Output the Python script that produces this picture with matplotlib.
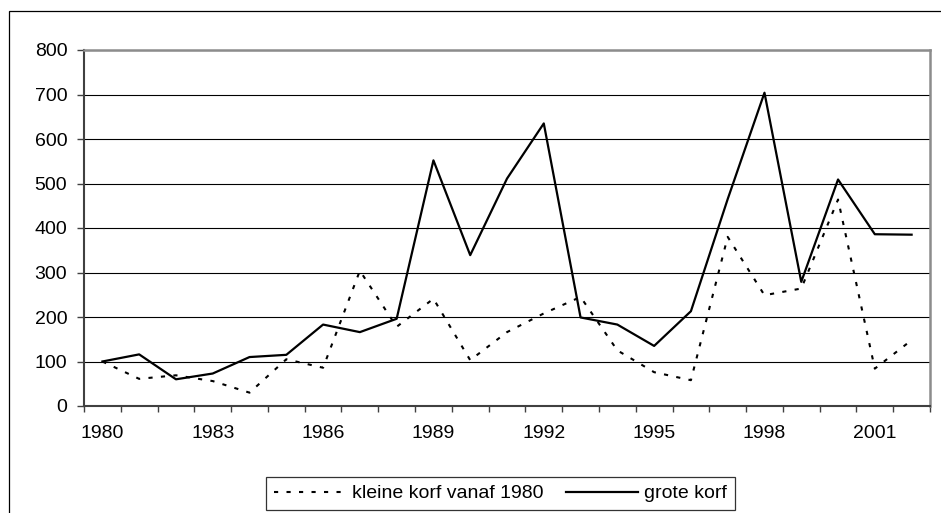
import matplotlib
matplotlib.use('Agg')
import matplotlib.pyplot as plt
from matplotlib.patches import Rectangle
from matplotlib.ticker import FixedLocator, NullFormatter

plt.rcParams['font.family'] = ['Liberation Sans', 'DejaVu Sans']

years = list(range(1980, 2003))
kleine = [100, 61, 69, 56, 30, 105, 86, 304, 178, 241, 103, 166, 208, 245,
          125, 76, 58, 380, 249, 264, 464, 84, 148]
grote = [100, 116, 60, 73, 110, 115, 183, 166, 196, 552, 339, 511, 635, 199,
         183, 135, 213, 465, 704, 279, 509, 386, 385]
label_years = [y for y in years if (y - 1980) % 3 == 0]

W, H = 941, 513
fs = 14
fig = plt.figure(figsize=(W / 100, H / 100), dpi=100)

# outer chart border (runs off the right/bottom edge)
fig.patches.append(Rectangle((9 / W, -0.2), 1.2, 1 - 11 / H + 0.2,
                             transform=fig.transFigure, fill=False,
                             edgecolor='black', linewidth=0.9))

ax = fig.add_axes([84 / W, 1 - 406 / H, 846 / W, 356 / H])

x = list(range(len(years)))
ax.plot(x, kleine, color='black', linewidth=1.5, linestyle=(0, (2, 4)),
        label='kleine korf vanaf 1980')
ax.plot(x, grote, color='black', linewidth=1.6, label='grote korf')

ax.set_xlim(-0.5, len(years) - 0.5)
ax.set_ylim(0, 800)
ax.set_yticks(range(0, 801, 100))
ax.yaxis.grid(True, color='black', linewidth=0.8)
ax.set_axisbelow(True)

# tick marks between categories, labels every third year
ax.xaxis.set_major_locator(FixedLocator([i - 0.5 for i in range(len(years) + 1)]))
ax.xaxis.set_major_formatter(NullFormatter())
ax.xaxis.set_minor_locator(FixedLocator([years.index(y) for y in label_years]))
ax.set_xticklabels([str(y) for y in label_years], minor=True)
ax.tick_params(axis='x', which='major', length=4.5, width=1, color='#404040')
ax.tick_params(axis='x', which='minor', length=0, pad=14, labelsize=fs)
ax.tick_params(axis='y', length=5, width=1, color='#404040', pad=7, labelsize=fs)

for s in ['left', 'bottom']:
    ax.spines[s].set_color('#404040')
    ax.spines[s].set_linewidth(1.5)
for s in ['top', 'right']:
    ax.spines[s].set_color('#8c8c8c')
    ax.spines[s].set_linewidth(1.8)

leg = fig.legend(loc='upper left', bbox_to_anchor=(266 / W, 1 - 477 / H),
                 ncol=2, frameon=True, fancybox=False, fontsize=fs,
                 handlelength=3.7, handletextpad=0.3, columnspacing=1.2,
                 borderpad=0.4, borderaxespad=0)
leg.get_frame().set_edgecolor('black')
leg.get_frame().set_linewidth(0.9)

fig.savefig('out.png', dpi=100)
